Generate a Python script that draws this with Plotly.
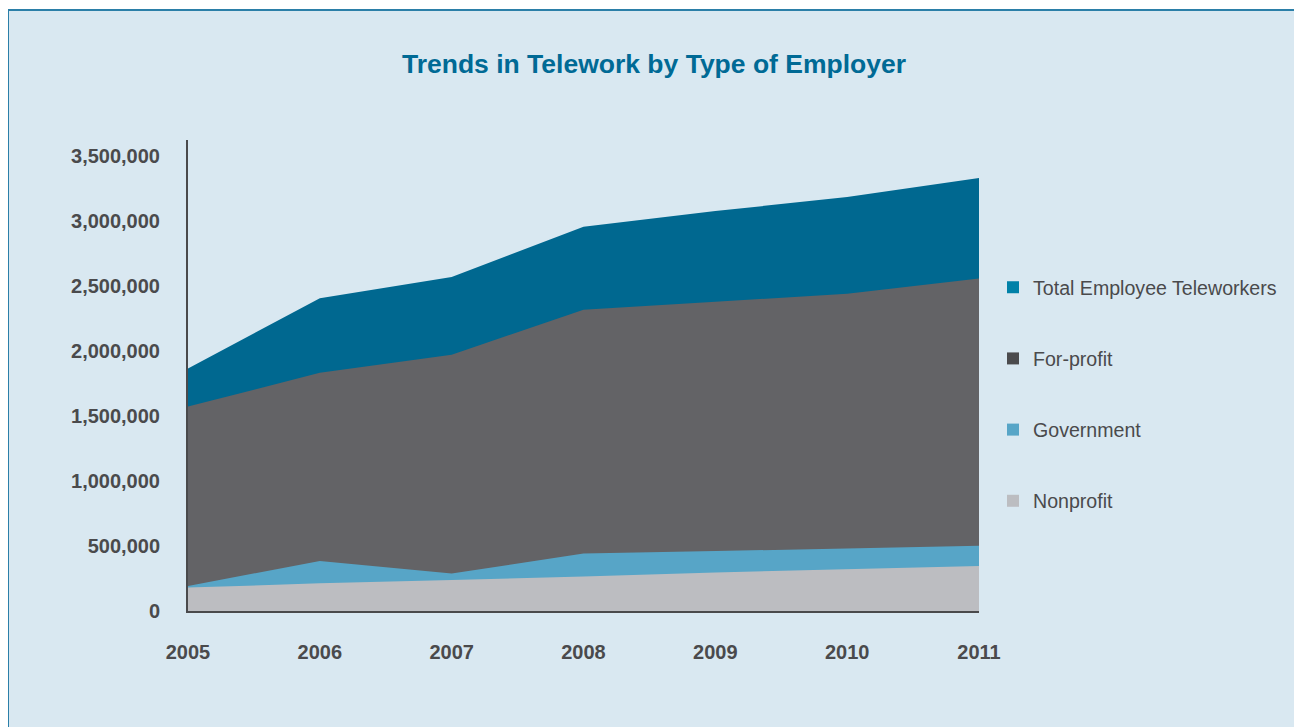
import plotly.graph_objects as go

years = [2005, 2006, 2007, 2008, 2009, 2010, 2011]
total = [1866000, 2405000, 2569000, 2955000, 3076000, 3185000, 3330000]
for_profit = [1573000, 1832000, 1971000, 2318000, 2378000, 2441000, 2557000]
government = [193000, 385000, 288000, 442000, 461000, 481000, 501000]
nonprofit = [180000, 213000, 239000, 265000, 297000, 322000, 347000]

series_names = ["Total Employee Teleworkers", "For-profit", "Government", "Nonprofit"]
series_values = [total, for_profit, government, nonprofit]
area_colors = ["#006890", "#636366", "#57a5c7", "#bcbdc1"]
legend_colors = ["#0081a8", "#4b4b4d", "#57a5c7", "#bcbdc1"]

y_ticks = [0, 500000, 1000000, 1500000, 2000000, 2500000, 3000000, 3500000]
y_tick_text = ["0", "500,000", "1,000,000", "1,500,000", "2,000,000", "2,500,000", "3,000,000", "3,500,000"]

BG = "#d9e8f1"
AX = "#4a4a4c"
FONT = "Liberation Sans"

fig = go.Figure()
for name, vals, col in zip(series_names, series_values, area_colors):
    fig.add_trace(go.Scatter(
        x=years, y=vals, mode="lines", fill="tozeroy",
        line=dict(width=0, color=col), fillcolor=col,
        showlegend=False, hoverinfo="x+y", name=name))

for i, (name, col) in enumerate(zip(series_names, legend_colors)):
    fig.add_trace(go.Scatter(
        x=[None], y=[None], mode="markers", name=name,
        marker=dict(symbol="square", size=13, color=col),
        legendgroup=f"g{i}", showlegend=True))

W, H = 1294, 719
L, R, T, B = 180, 323, 132, 116
pw = W - L - R
ph = H - T - B

def px_x(x):
    return (x - L) / pw

def px_y(y):
    return (H - B - y) / ph

fig.add_shape(type="rect", xref="paper", yref="paper",
              x0=px_x(0), x1=px_x(1293), y0=px_y(760), y1=px_y(2),
              fillcolor=BG, line=dict(color="#2b7fa8", width=2), layer="below")

fig.update_layout(
    width=W, height=H,
    margin=dict(l=L, r=R, t=T, b=B),
    paper_bgcolor="white", plot_bgcolor=BG,
    title=dict(text="<b>Trends in Telework by Type of Employer</b>",
               x=px_x(646), xanchor="center", xref="paper",
               y=1 - 56 / H, yanchor="middle",
               font=dict(family=FONT, size=26.5, color="#006a95")),
    font=dict(family=FONT, color=AX),
    legend=dict(x=px_x(985), xanchor="left", y=px_y(260), yanchor="top",
                bgcolor="rgba(0,0,0,0)", font=dict(family=FONT, size=19.6, color="#4a4a4c"),
                tracegroupgap=42.7, itemsizing="constant"),
    xaxis=dict(range=[2005, 2011], tickvals=years, ticktext=[str(y) for y in years],
               showgrid=False, zeroline=False, showline=True, linecolor=AX, linewidth=2,
               ticks="outside", ticklen=22, tickcolor="rgba(0,0,0,0)",
               tickfont=dict(family=FONT, size=20, color=AX, weight="bold")),
    yaxis=dict(range=[0, 3623000], tickvals=y_ticks, ticktext=y_tick_text,
               showgrid=False, zeroline=False, showline=True, linecolor=AX, linewidth=2,
               ticks="outside", ticklen=22, tickcolor="rgba(0,0,0,0)",
               tickfont=dict(family=FONT, size=20, color=AX, weight="bold")),
)

fig.write_html("out.html")
